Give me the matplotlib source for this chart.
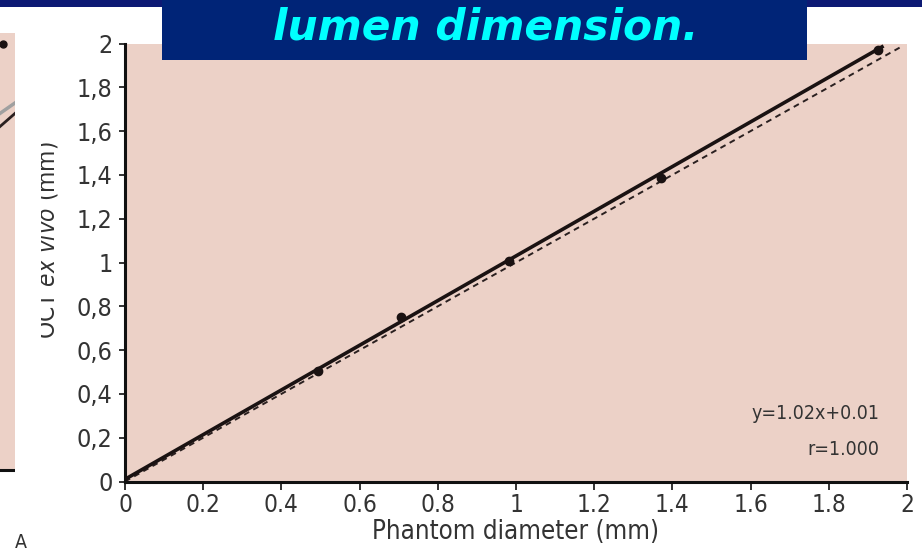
import numpy as np
import matplotlib.pyplot as plt
from matplotlib.patches import Rectangle

phantom_mm = [0.494, 0.706, 0.982, 1.371, 1.926]
oct_mm = [0.505, 0.751, 1.007, 1.386, 1.970]
fit_slope, fit_intercept = 1.02, 0.01
fit_range = [0.0, 1.94]
identity_range = [0.0, 1.99]

xticks = [0, 0.2, 0.4, 0.6, 0.8, 1, 1.2, 1.4, 1.6, 1.8, 2]
xtick_labels = ['0', '0.2', '0.4', '0.6', '0.8', '1', '1.2', '1.4', '1.6', '1.8', '2']
yticks = [0, 0.2, 0.4, 0.6, 0.8, 1, 1.2, 1.4, 1.6, 1.8, 2]
ytick_labels = ['0', '0,2', '0,4', '0,6', '0,8', '1', '1,2', '1,4', '1,6', '1,8', '2']

# neighbouring panel that is cut off on the left of the slide
left_x = [0.0, 1.0]
left_grey = [0.816, 0.84]
left_dark = [0.786, 0.816]
left_dot_x = [0.2]
left_dot_y = [0.975]

title_text = 'lumen dimension.'
fit_text = 'y=1.02x+0.01'
r_text = 'r=1.000'

pink = '#ecd1c7'
navy = '#002477'
txt_col = '#333333'

plt.rcParams['font.family'] = ['DejaVu Sans']
plt.rcParams['font.stretch'] = 'condensed'
plt.rcParams['mathtext.fontset'] = 'custom'
plt.rcParams['mathtext.it'] = 'DejaVu Sans:italic'
plt.rcParams['mathtext.rm'] = 'DejaVu Sans'

W, H = 922, 551
fig = plt.figure(figsize=(W / 100, H / 100), dpi=100)
fig.patch.set_facecolor('white')


def fx(px):
    return px / W


def fy(py):
    return 1 - py / H


# main plot
ax = fig.add_axes([fx(125), fy(481.5), fx(907) - fx(125), fy(43.5) - fy(481.5)])
ax.set_facecolor(pink)
ax.set_xlim(0, 2)
ax.set_ylim(0, 2)

xs = np.array(fit_range)
ax.plot(identity_range, identity_range, color='#2a2020', lw=1.4, ls=(0, (3, 2.4)), zorder=2)
ax.plot(xs, fit_slope * xs + fit_intercept, color='#1a1212', lw=2.6, zorder=3, solid_capstyle='butt')
ax.plot(phantom_mm, oct_mm, 'o', color='#1a1212', ms=6, zorder=4)

for side in ['top', 'right']:
    ax.spines[side].set_visible(False)
for side in ['left', 'bottom']:
    ax.spines[side].set_linewidth(2.2)
    ax.spines[side].set_color('#111111')

ax.set_xticks(xticks)
ax.set_xticklabels(xtick_labels)
ax.set_yticks(yticks)
ax.set_yticklabels(ytick_labels)
ax.tick_params(axis='x', direction='out', length=6, width=1.2, colors='#111111',
               labelcolor=txt_col, labelsize=17.5, pad=2.5)
ax.tick_params(axis='y', direction='out', length=4.5, width=1.2, colors='#111111',
               labelcolor=txt_col, labelsize=18, pad=4.5)

ax.set_xlabel('Phantom diameter (mm)', fontsize=18.5, color=txt_col, labelpad=1)

ax.text(0.965, 0.156, fit_text, transform=ax.transAxes, ha='right', va='center',
        fontsize=14, color=txt_col)
ax.text(0.965, 0.072, r_text, transform=ax.transAxes, ha='right', va='center',
        fontsize=14, color=txt_col)

# y label, partly hidden behind the slide's white edge
fig.text(fx(47), fy(240), r'OCT $\it{ex\ vivo}$ (mm)', rotation=90, ha='center', va='center',
         fontsize=17.5, color=txt_col)
fig.add_artist(Rectangle((fx(15), fy(551)), fx(26), fy(7) - fy(551), transform=fig.transFigure,
                         facecolor='white', edgecolor='none', zorder=5))

# sliver of the previous panel on the far left
lax = fig.add_axes([0, fy(470), fx(15), fy(33) - fy(470)])
lax.set_facecolor(pink)
lax.set_xlim(0, 1)
lax.set_ylim(0, 1)
lax.plot(left_x, left_grey, color='#a0a0a0', lw=2.5)
lax.plot(left_x, left_dark, color='#2a2020', lw=2)
lax.plot(left_dot_x, left_dot_y, 'o', color='#1a1212', ms=5, clip_on=True)
lax.set_xticks([])
lax.set_yticks([])
for side in ['top', 'right', 'left']:
    lax.spines[side].set_visible(False)
lax.spines['bottom'].set_linewidth(2.2)
lax.spines['bottom'].set_color('#111111')
fig.text(fx(21), fy(533), 'A', fontsize=14, color=txt_col, ha='center', va='top', zorder=6)

# slide decoration: top band and title box
fig.add_artist(Rectangle((0, fy(7)), 1, fy(0) - fy(7), transform=fig.transFigure,
                         facecolor='#0d1a74', edgecolor='none', zorder=6))
fig.add_artist(Rectangle((fx(162), fy(60)), fx(807) - fx(162), fy(0) - fy(60),
                         transform=fig.transFigure, facecolor=navy, edgecolor='none', zorder=7))
fig.text(fx(486), fy(39), title_text, fontsize=30.5, color='#00ffff', fontweight='bold',
         fontstyle='italic', family='DejaVu Sans', fontstretch='normal',
         ha='center', va='baseline', zorder=8)

fig.savefig('out.png', dpi=100, facecolor=fig.get_facecolor())
